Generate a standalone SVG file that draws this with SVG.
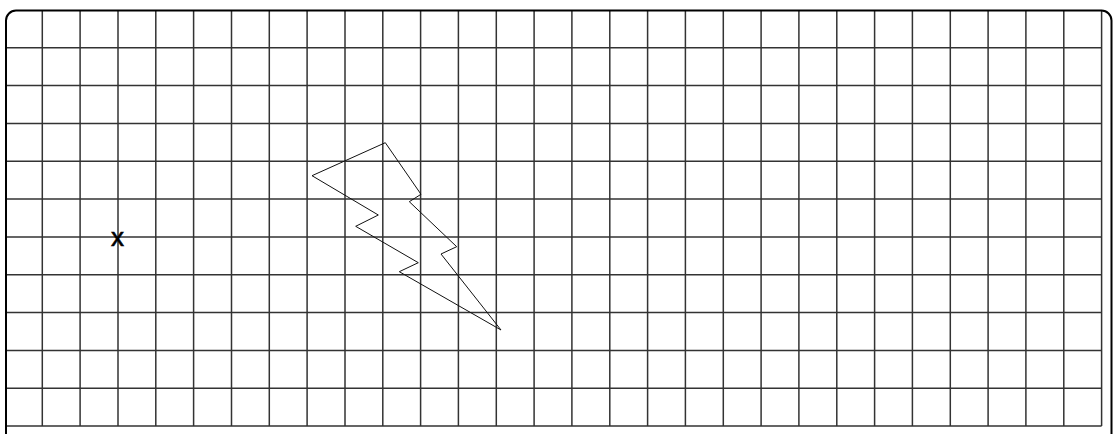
<svg xmlns="http://www.w3.org/2000/svg" width="1113" height="434" viewBox="0 0 1113 434">
<style>
.g{stroke:#333;stroke-width:1.5;fill:none}
.bolt{stroke:#111;stroke-width:1;fill:none;stroke-linejoin:miter}
.mark{font-family:"Liberation Sans",Arial,sans-serif;font-size:26px;fill:#000;stroke:#000;stroke-width:0.6}
</style>
<rect width="1113" height="434" fill="#fff"/>
<g id="grid" class="g">
<path d="M42.3 10V426M80.1 10V426M118 10V426M155.8 10V426M193.6 10V426M231.5 10V426M269.3 10V426M307.1 10V426M345 10V426M382.8 10V426M420.6 10V426M458.4 10V426M496.3 10V426M534.1 10V426M571.9 10V426M609.8 10V426M647.6 10V426M685.4 10V426M723.3 10V426M761.1 10V426M798.9 10V426M836.8 10V426M874.6 10V426M912.4 10V426M950.3 10V426M988.1 10V426M1025.9 10V426M1063.8 10V426M1101.6 10V426"/>
<path d="M6 47.7H1101.6M6 85.6H1101.6M6 123.4H1101.6M6 161.2H1101.6M6 199.1H1101.6M6 236.9H1101.6M6 274.7H1101.6M6 312.5H1101.6M6 350.4H1101.6M6 388.2H1101.6M6 426H1101.6"/>
</g>
<g id="frame">
<path d="M6 440V20.5A10 10 0 0 1 16 10.5H1101.5A10 10 0 0 1 1111.5 20.5V440" fill="none" stroke="#000" stroke-width="2"/>
</g>
<g id="bolt">
<polygon class="bolt" points="385.3,142.7 421,194.3 409.3,201.7 456.7,246.7 441,254 501,330 399.3,271.7 418.3,262.7 355.7,226.3 378.3,215 312,175.7"/>
</g>
<g id="marker">
<text class="mark" x="117.5" y="245.5" text-anchor="middle">x</text>
</g>
</svg>
